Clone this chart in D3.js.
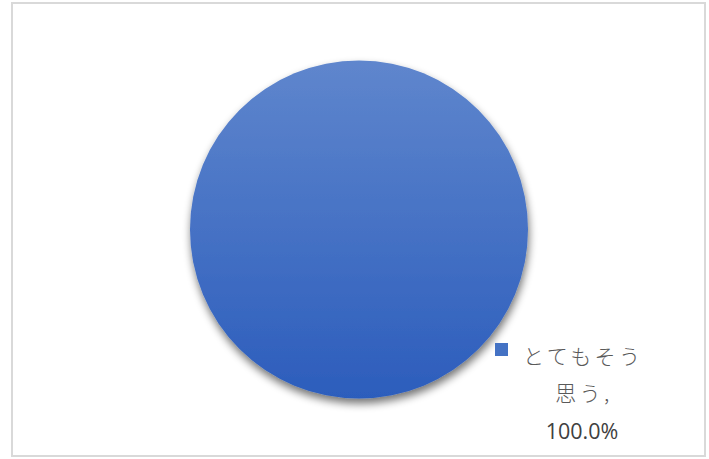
<!DOCTYPE html>
<html><head><meta charset="utf-8">
<script src="https://cdn.jsdelivr.net/npm/d3@7"></script>
<style>body{margin:0;background:#fff}svg{display:block}</style>
</head><body>
<svg id="c" width="709" height="459"></svg>
<script>
const categories = ["とてもそう思う"];
const values = [100.0];
const labelLines = ["とてもそう", "思う,", "100.0%"];

const svg = d3.select("#c");
svg.append("rect").attr("x",12).attr("y",3).attr("width",693).attr("height",453)
  .attr("fill","#fff").attr("stroke","#d9d9d9").attr("stroke-width",2);

const defs = svg.append("defs");
const g = defs.append("linearGradient").attr("id","grad").attr("x1",0).attr("y1",0).attr("x2",0).attr("y2",1);
g.append("stop").attr("offset","0%").attr("stop-color","#5f86cd");
g.append("stop").attr("offset","100%").attr("stop-color","#2c5dbc");
const f = defs.append("filter").attr("id","sh").attr("x","-20%").attr("y","-20%").attr("width","140%").attr("height","140%");
f.append("feGaussianBlur").attr("in","SourceAlpha").attr("stdDeviation",4).attr("result","b");
f.append("feOffset").attr("in","b").attr("dx",1).attr("dy",5).attr("result","o");
f.append("feComponentTransfer").attr("in","o").attr("result","o2")
  .append("feFuncA").attr("type","linear").attr("slope",0.55);
const m = f.append("feMerge");
m.append("feMergeNode").attr("in","o2");
m.append("feMergeNode").attr("in","SourceGraphic");

const cx = 359, cy = 229.5, r = 169;
const pie = d3.pie().sort(null)(values);
const arc = d3.arc().innerRadius(0).outerRadius(r);
svg.append("g").attr("transform",`translate(${cx},${cy})`)
  .selectAll("path").data(pie).join("path")
  .attr("d",arc).attr("fill","url(#grad)").attr("filter","url(#sh)");

// label
const lg = svg.append("g");
lg.append("rect").attr("x",495).attr("y",343).attr("width",13).attr("height",13).attr("fill","#4472c4");
const font = "'Noto Sans CJK JP', sans-serif";
lg.append("text").attr("x",523).attr("y",364).text(labelLines[0])
  .attr("font-family",font).attr("font-weight",300).attr("font-size",21).attr("fill","#595959").attr("letter-spacing",3.5);
lg.append("text").attr("x",584).attr("y",401).attr("text-anchor","middle").text(labelLines[1])
  .attr("font-family",font).attr("font-weight",300).attr("font-size",21).attr("fill","#595959").attr("letter-spacing",3.5);
lg.append("text").attr("x",582).attr("y",439).attr("text-anchor","middle").text(labelLines[2])
  .attr("font-family","'Open Sans', 'Noto Sans', sans-serif").attr("font-size",21.5).attr("fill","#404040");
</script>
</body></html>
